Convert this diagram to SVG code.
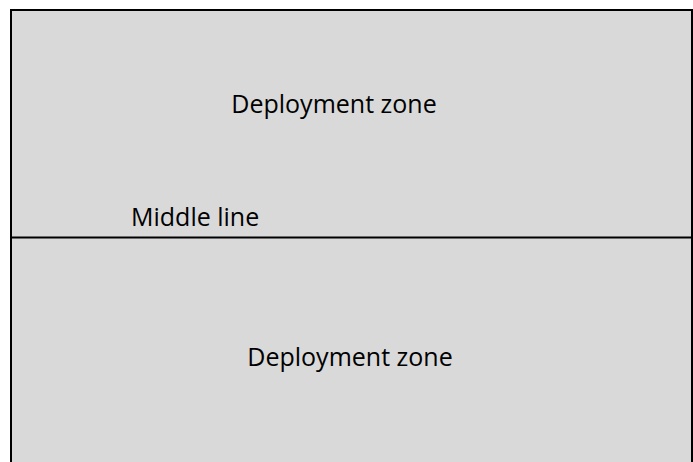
<svg xmlns="http://www.w3.org/2000/svg" width="693" height="462" viewBox="0 0 693 462">
<style>
.lbl{font-family:"Open Sans","Liberation Sans",sans-serif;font-size:25px;fill:#000}
</style>
<rect x="0" y="0" width="693" height="462" fill="#ffffff"/>
<g id="field">
<rect x="11" y="10" width="681" height="470" fill="#d9d9d9" stroke="#000" stroke-width="2"/>
</g>
<g id="connectors">
<line x1="11" y1="237.5" x2="692" y2="237.5" stroke="#000" stroke-width="2"/>
</g>
<g id="zone-top">
<text class="lbl" x="334" y="113" text-anchor="middle">Deployment zone</text>
</g>
<g id="middle-line">
<text class="lbl" x="131" y="226">Middle line</text>
</g>
<g id="zone-bottom">
<text class="lbl" x="350" y="366" text-anchor="middle">Deployment zone</text>
</g>
</svg>
